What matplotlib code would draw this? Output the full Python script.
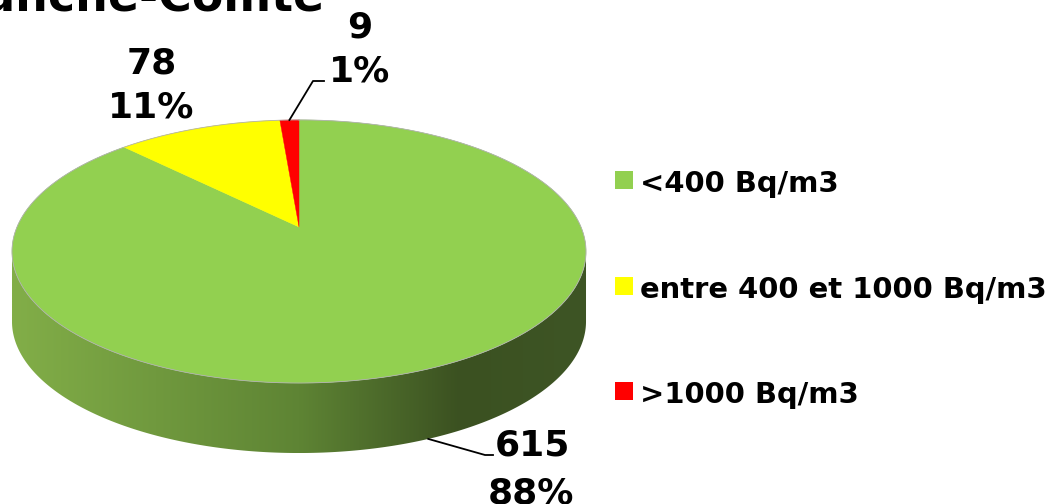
import numpy as np
import matplotlib
matplotlib.use('Agg')
import matplotlib.pyplot as plt
from matplotlib.patches import Polygon, Rectangle
from matplotlib.colors import LinearSegmentedColormap

plt.rcParams['font.family'] = 'DejaVu Sans'
plt.rcParams['font.weight'] = 'bold'

TITLE = 'Franche-Comté'
CATEGORIES = ['<400 Bq/m3', 'entre 400 et 1000 Bq/m3', '>1000 Bq/m3']
COUNTS = [615, 78, 9]
COLORS = ['#92D050', '#FFFF00', '#FF0000']

# pie geometry (pixel space of the 1051x504 canvas)
CX, CY = 299, 227      # centre of the top face
SX, SY = 282, 127      # radii before perspective
K = 0.186              # perspective strength
DEPTH = 70             # thickness of the pie
SIDE_CMAP = LinearSegmentedColormap.from_list(
    'side', [(0.0, '#82AE48'), (0.5, '#5E8434'), (0.78, '#3B5121'), (1.0, '#3E5525')])


def project(X, Y):
    d = 1 + K * Y
    return CX + SX * X / d, CY - SY * Y / d


def arc(t0, t1, n=200):
    # angles measured clockwise from 12 o'clock
    t = np.linspace(t0, t1, n)
    return project(np.sin(t), np.cos(t))


fig = plt.figure(figsize=(10.51, 5.04), dpi=100)
ax = fig.add_axes([0, 0, 1, 1])
ax.axis('off')

# side wall (front half only)
phi = np.linspace(np.pi + np.arcsin(K), 2 * np.pi - np.arcsin(K), 300)
sx, sy = project(np.cos(phi), np.sin(phi))
side_pts = np.column_stack([np.r_[sx, sx[::-1]], np.r_[sy, sy[::-1] + DEPTH]])
side = Polygon(side_pts, closed=True, facecolor='none', edgecolor='none')
ax.add_patch(side)
grad = np.linspace(0, 1, 256).reshape(1, -1)
im = ax.imshow(grad, extent=(sx.min(), sx.max(), sy.max() + DEPTH, sy.min()),
               aspect='auto', cmap=SIDE_CMAP, interpolation='bilinear', zorder=1)
im.set_clip_path(side)

# top face slices
total = sum(COUNTS)
fracs = [c / total for c in COUNTS]
start = 0.0
mids = []
for frac, col in zip(fracs, COLORS):
    end = start + frac * 2 * np.pi
    ax_, ay_ = arc(start, end)
    pts = np.column_stack([np.r_[CX, ax_], np.r_[CY, ay_]])
    ax.add_patch(Polygon(pts, closed=True, facecolor=col, edgecolor=col,
                         linewidth=0.3, zorder=2))
    mids.append((start + end) / 2)
    start = end

# outline of top face
ox, oy = arc(0, 2 * np.pi, 400)
ax.plot(ox, oy, color='#b0b0b0', linewidth=0.6, zorder=3)

# data labels
pcts = [round(f * 100) for f in fracs]
txt = dict(fontsize=26, fontweight='bold', color='black', ha='center', va='baseline', zorder=5)

# green (615)
gx, gy = project(np.sin(mids[0]), np.cos(mids[0]))
ax.plot([gx, 485, 493], [gy + DEPTH, 455, 455], color='black', linewidth=1.3, zorder=4)
ax.text(532, 455, str(COUNTS[0]), **txt)
ax.text(531, 503, f'{pcts[0]}%', **txt)

# yellow (78)
ax.text(152, 74, str(COUNTS[1]), **txt)
ax.text(151, 117, f'{pcts[1]}%', **txt)

# red (9)
rx, ry = project(np.sin(mids[2]), np.cos(mids[2]))
ax.plot([rx, 313, 324], [ry, 81, 81], color='black', linewidth=1.3, zorder=4)
ax.text(360, 37, str(COUNTS[2]), **txt)
ax.text(360, 82, f'{pcts[2]}%', **txt)

# title (cut at the top of the image)
ax.text(325, 11, TITLE, fontsize=33, fontweight='bold', ha='right', va='baseline')

# legend
rows = [180, 285.5, 391]
for yc, lab, col in zip(rows, CATEGORIES, COLORS):
    ax.add_patch(Rectangle((615, yc - 9), 18, 18, facecolor=col, edgecolor='none'))
    ax.text(640, yc + 12, lab, fontsize=20.9, fontweight='bold', ha='left', va='baseline')

ax.set_xlim(0, 1051)
ax.set_ylim(504, 0)

fig.savefig('out.png', dpi=100)
